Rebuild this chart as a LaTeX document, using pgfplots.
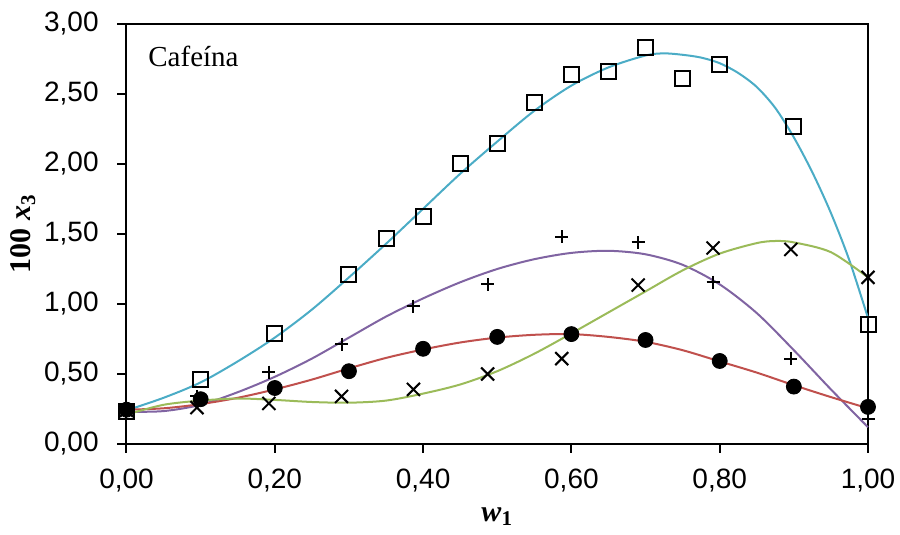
\documentclass[border=0pt]{standalone}
\usepackage{pgfplots}
\pgfplotsset{compat=1.18}
\usepackage{fontspec}
\setmainfont{Liberation Serif}
\newfontfamily\arialfont{Liberation Sans}

\definecolor{fitcyan}{HTML}{4BACC6}
\definecolor{fitpurple}{HTML}{8064A2}
\definecolor{fitred}{HTML}{C0504D}
\definecolor{fitgreen}{HTML}{9BBB59}

\begin{document}
\begin{tikzpicture}
\useasboundingbox (-63.25pt,-45.5pt) rectangle (386.75pt,222pt);
\begin{axis}[
  at={(0pt,0pt)}, anchor=south west,
  scale only axis,
  width=370.75pt, height=210pt,
  xmin=0, xmax=1, ymin=0, ymax=3,
  xtick={0,0.2,0.4,0.6,0.8,1},
  ytick={0,0.5,1,1.5,2,2.5,3},
  minor tick num=0,
  tick pos=left,
  tick align=outside,
  major tick length=4.5pt,
  axis line style={line width=1pt},
  every tick/.style={black, line width=1pt},
  /pgf/number format/.cd, fixed, fixed zerofill, precision=2, use comma, assume math mode=true,
  /pgfplots/.cd,
  ticklabel style={font=\arialfont\fontsize{14}{16}\selectfont, inner sep=0pt},
  xticklabel style={anchor=north, yshift=-8pt},
  yticklabel style={anchor=east, xshift=-9.25pt},
  xlabel={\fontsize{15}{17}\selectfont\bfseries\itshape w\textsubscript{\upshape 1}},
  ylabel={\fontsize{15}{17}\selectfont\bfseries 100 \textit{x}\textsubscript{3}},
  xlabel style={at={(axis description cs:0.5,0)}, anchor=base, yshift=-38.5pt, inner sep=0pt},
  ylabel style={at={(axis description cs:-0.1396,0.5)}, anchor=center, inner sep=0pt},
  clip=false,
]
% fitted curves
\addplot[fitcyan, line width=1pt, smooth, no markers] coordinates {
(0,0.24) (0.05,0.33) (0.10,0.44) (0.15,0.59) (0.20,0.76) (0.25,0.96)
(0.30,1.19) (0.35,1.43) (0.40,1.68) (0.45,1.93) (0.50,2.16) (0.55,2.38)
(0.60,2.56) (0.65,2.69) (0.70,2.775) (0.725,2.79) (0.75,2.78) (0.775,2.76)
(0.80,2.72) (0.825,2.65) (0.85,2.55) (0.875,2.40) (0.90,2.19) (0.925,1.94)
(0.95,1.65) (0.975,1.31) (1.00,0.90)};
\addplot[fitpurple, line width=1pt, smooth, no markers] coordinates {
(0,0.23) (0.05,0.235) (0.10,0.28) (0.15,0.37) (0.20,0.48) (0.25,0.61)
(0.30,0.76) (0.35,0.91) (0.40,1.04) (0.45,1.155) (0.50,1.25) (0.55,1.32)
(0.60,1.365) (0.65,1.38) (0.70,1.355) (0.75,1.28) (0.80,1.14) (0.85,0.935)
(0.90,0.67) (0.95,0.39) (1.00,0.12)};
\addplot[fitred, line width=1pt, smooth, no markers] coordinates {
(0,0.245) (0.05,0.255) (0.10,0.285) (0.15,0.33) (0.20,0.39) (0.25,0.46)
(0.30,0.54) (0.35,0.615) (0.40,0.675) (0.45,0.725) (0.50,0.76) (0.55,0.78)
(0.60,0.785) (0.65,0.765) (0.70,0.73) (0.75,0.67) (0.80,0.59) (0.85,0.51)
(0.90,0.42) (0.95,0.335) (1.00,0.255)};
\addplot[fitgreen, line width=1pt, smooth, no markers] coordinates {
(0,0.21) (0.05,0.28) (0.10,0.31) (0.15,0.325) (0.20,0.315) (0.25,0.30)
(0.30,0.295) (0.35,0.31) (0.40,0.36) (0.45,0.425) (0.50,0.52) (0.55,0.645)
(0.60,0.79) (0.65,0.94) (0.70,1.09) (0.75,1.24) (0.80,1.36) (0.85,1.435)
(0.875,1.45) (0.90,1.44) (0.95,1.37) (1.00,1.19)};
% experimental points
\addplot[only marks, mark=square, mark size=3.75pt, black, mark options={line width=1pt}] coordinates {
(0,0.235) (0.1,0.46) (0.2,0.79) (0.3,1.21) (0.35,1.47) (0.4,1.625)
(0.45,2.005) (0.5,2.145) (0.55,2.44) (0.6,2.64) (0.65,2.66) (0.7,2.83)
(0.75,2.61) (0.8,2.71) (0.9,2.265) (1.0,0.855)};
\addplot[only marks, mark=+, mark size=3.25pt, black, mark options={line width=1pt}] coordinates {
(0,0.24) (0.095,0.34) (0.192,0.514) (0.29,0.714) (0.387,0.985) (0.487,1.14)
(0.587,1.48) (0.69,1.44) (0.791,1.155) (0.896,0.61) (1.0,0.18)};
\addplot[only marks, mark=x, mark size=4.6pt, black, mark options={line width=1pt}] coordinates {
(0,0.24) (0.095,0.26) (0.192,0.29) (0.29,0.34) (0.387,0.39) (0.487,0.50)
(0.587,0.61) (0.69,1.135) (0.791,1.40) (0.896,1.39) (1.0,1.19)};
\addplot[only marks, mark=*, mark size=3.75pt, black] coordinates {
(0,0.245) (0.1,0.32) (0.2,0.40) (0.3,0.52) (0.4,0.68) (0.5,0.765)
(0.6,0.785) (0.7,0.743) (0.8,0.593) (0.9,0.41) (1.0,0.265)};
\node[anchor=base west, inner sep=0pt, font=\fontsize{14.5}{16}\selectfont] at (axis cs:0.029,2.693) {Cafeína};
\end{axis}
\end{tikzpicture}
\end{document}
